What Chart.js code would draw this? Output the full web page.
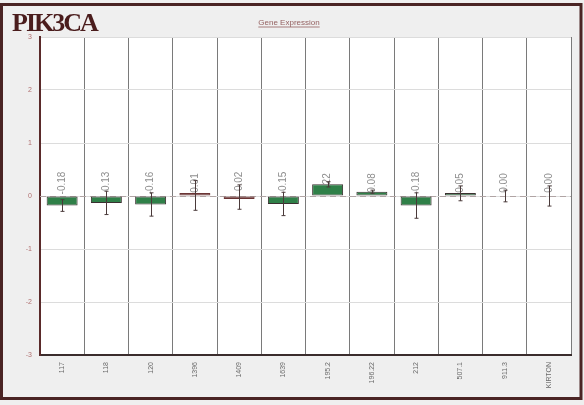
<!DOCTYPE html>
<html>
<head>
<meta charset="utf-8">
<script src="https://cdn.jsdelivr.net/npm/chart.js@4/dist/chart.umd.min.js"></script>
<style>
  html, body { margin: 0; padding: 0; background: #efefef; }
  canvas { display: block; }
</style>
</head>
<body>
<canvas id="c" width="584" height="405"></canvas>
<script>
// Cell lines and mean relative expression of PIK3CA
const categories = ['117', '118', '120', '1396', '1409', '1639', '195.2', '196.22', '212', '507.1', '911.3', 'KIRTON'];
const values = [-0.18, -0.13, -0.16, 0.01, -0.02, -0.15, 0.22, 0.08, -0.18, 0.05, 0.00, 0.00];
const errors = [0.11, 0.22, 0.22, 0.28, 0.23, 0.22, 0.05, 0.03, 0.24, 0.14, 0.11, 0.19];
const yTicks = [-3, -2, -1, 0, 1, 2, 3];

const geneName = 'PIK3CA';
const subtitle = 'Gene Expression';

// Background, frame and headings
const framePlugin = {
  id: 'frame',
  beforeDraw(chart) {
    const { ctx, chartArea: a } = chart;
    ctx.save();
    ctx.fillStyle = '#efefef';
    ctx.fillRect(0, 0, chart.width, chart.height);
    ctx.fillStyle = '#ffffff';
    ctx.fillRect(a.left, a.top, a.right - a.left, a.bottom - a.top);
    ctx.restore();
  },
  afterDraw(chart) {
    const { ctx } = chart;
    ctx.save();
    ctx.strokeStyle = '#4a2424';
    ctx.lineWidth = 3;
    ctx.strokeRect(1.5, 4.5, 579.5, 394);

    ctx.fillStyle = '#4a1c1c';
    ctx.font = 'bold 26px "Liberation Serif", serif';
    ctx.textBaseline = 'alphabetic';
    ctx.textAlign = 'left';
    if ('letterSpacing' in ctx) ctx.letterSpacing = '-2px';
    ctx.fillText(geneName, 12, 31);
    if ('letterSpacing' in ctx) ctx.letterSpacing = '0px';

    ctx.fillStyle = '#946060';
    ctx.font = '8px "Liberation Sans", Arial, sans-serif';
    ctx.textAlign = 'center';
    ctx.fillText(subtitle, 289, 25);
    const w = ctx.measureText(subtitle).width;
    ctx.strokeStyle = '#946060';
    ctx.lineWidth = 0.8;
    ctx.beginPath();
    ctx.moveTo(289 - w / 2, 27);
    ctx.lineTo(289 + w / 2, 27);
    ctx.stroke();
    ctx.restore();
  }
};

// Zero line and value labels beneath the bars, error whiskers above them
const labelPlugin = {
  id: 'valueLabels',
  beforeDatasetsDraw(chart) {
    const { ctx, chartArea: a } = chart;
    const y = chart.scales.y;
    const x = chart.scales.x;
    const zero = y.getPixelForValue(0);
    ctx.save();
    ctx.strokeStyle = '#b0a4a4';
    ctx.lineWidth = 1;
    ctx.setLineDash([6, 4]);
    ctx.beginPath();
    ctx.moveTo(a.left, Math.round(zero) + 0.5);
    ctx.lineTo(a.right, Math.round(zero) + 0.5);
    ctx.stroke();
    ctx.setLineDash([]);

    ctx.fillStyle = '#8e8e8e';
    ctx.font = '10px "Liberation Sans", Arial, sans-serif';
    ctx.textAlign = 'center';
    ctx.textBaseline = 'middle';
    values.forEach((v, i) => {
      const cx = x.getPixelForValue(i);
      ctx.save();
      ctx.translate(cx, zero - 13);
      ctx.rotate(-Math.PI / 2);
      ctx.fillText(v.toFixed(2), 0, 0);
      ctx.restore();
    });
    ctx.restore();
  },
  afterDatasetsDraw(chart) {
    const { ctx } = chart;
    const y = chart.scales.y;
    const x = chart.scales.x;
    ctx.save();
    ctx.strokeStyle = '#4a3a3a';
    ctx.lineWidth = 1;
    values.forEach((v, i) => {
      const cx = Math.round(x.getPixelForValue(i)) + 0.5;
      const yTop = y.getPixelForValue(v + errors[i]);
      const yBot = y.getPixelForValue(v - errors[i]);
      ctx.beginPath();
      ctx.moveTo(cx, yTop);
      ctx.lineTo(cx, yBot);
      ctx.moveTo(cx - 2, yTop);
      ctx.lineTo(cx + 2, yTop);
      ctx.moveTo(cx - 2, yBot);
      ctx.lineTo(cx + 2, yBot);
      ctx.stroke();
    });
    ctx.restore();
  }
};

new Chart(document.getElementById('c'), {
  type: 'bar',
  data: {
    labels: categories,
    datasets: [{
      data: values,
      backgroundColor: (c) => (c.raw === 0 ? 'rgba(0,0,0,0)' : (Math.abs(c.raw) < 0.03 ? '#6a3434' : '#2f8048')),
      borderColor: (c) => (c.raw === 0 ? 'rgba(0,0,0,0)' : (Math.abs(c.raw) < 0.03 ? '#6a3434' : '#3a3030')),
      borderWidth: 1,
      borderSkipped: false,
      minBarLength: 3,
      categoryPercentage: 1,
      barPercentage: 0.7
    }]
  },
  options: {
    responsive: false,
    animation: false,
    devicePixelRatio: 1,
    layout: { padding: { left: 0, right: 13, top: 37, bottom: 0 } },
    plugins: {
      legend: { display: false },
      tooltip: { enabled: false },
      title: { display: false }
    },
    scales: {
      x: {
        afterFit(s) { s.height = 50; },
        grid: { color: '#7a7a7a', lineWidth: 1, drawTicks: false, offset: true },
        border: { color: '#3a2c2c', width: 2 },
        ticks: {
          minRotation: 90,
          maxRotation: 90,
          padding: 7,
          color: '#6a6a6a',
          font: { size: 7, family: '"Liberation Sans", Arial, sans-serif' }
        }
      },
      y: {
        min: -3,
        max: 3,
        afterFit(s) { s.width = 40; },
        afterBuildTicks(s) { s.ticks = yTicks.map(v => ({ value: v })); },
        grid: { color: '#dcdcdc', lineWidth: 1, drawTicks: false },
        border: { color: '#5a2a2a', width: 2 },
        ticks: {
          padding: 8,
          color: '#b07070',
          font: { size: 7, family: '"Liberation Sans", Arial, sans-serif' }
        }
      }
    }
  },
  plugins: [framePlugin, labelPlugin]
});
</script>
</body>
</html>
